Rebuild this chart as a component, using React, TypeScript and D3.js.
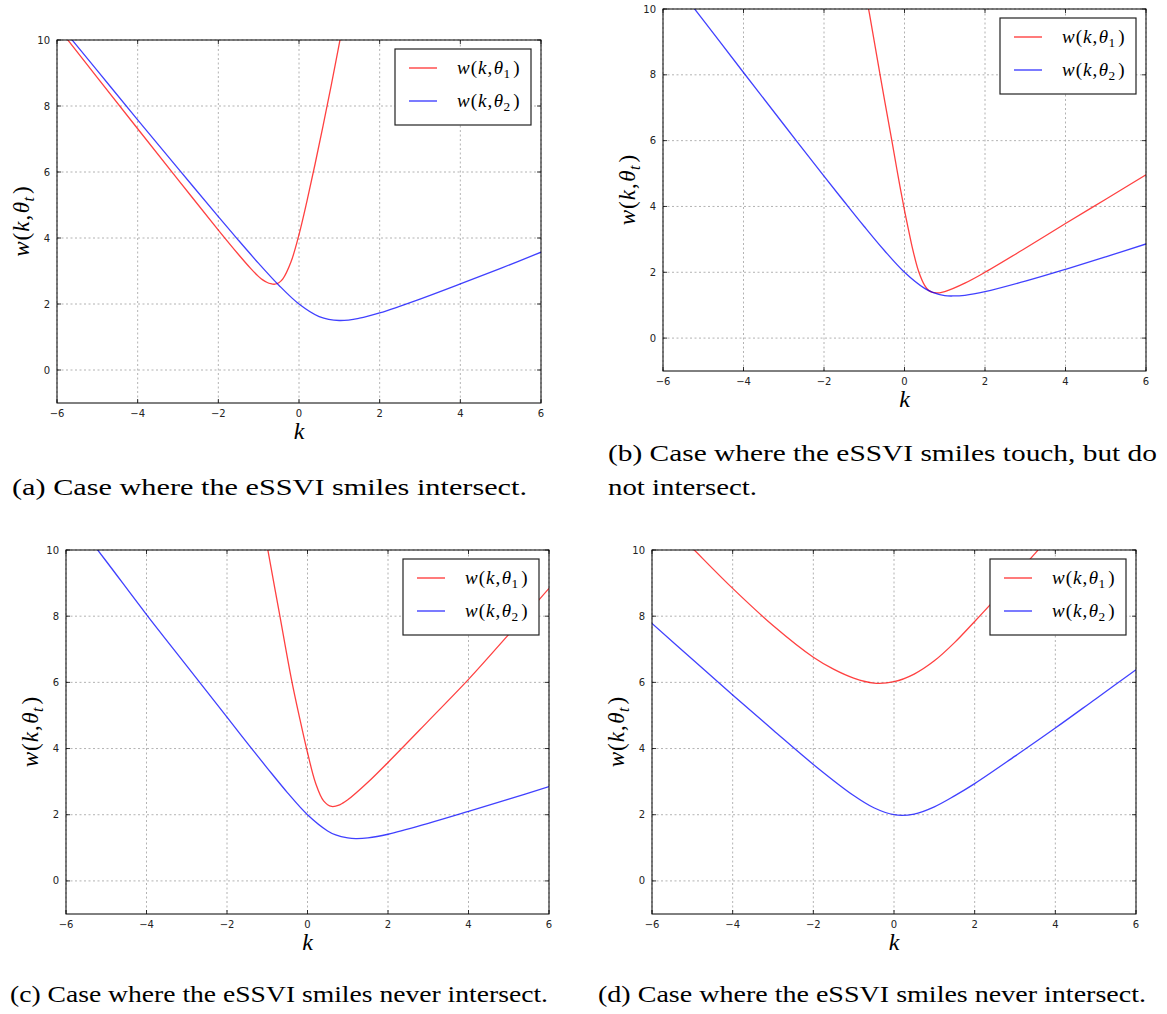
import React from 'react';
import * as d3 from 'd3';

// ---------- shared axis data ----------
const kTicks = [-6, -4, -2, 0, 2, 4, 6];
const wTicks = [0, 2, 4, 6, 8, 10];
const kDomain = [-6, 6];
const wDomain = [-1, 10];
const seriesSubs = ['1', '2'];

// ---------- panel (a) ----------
const aRedK = [-6, -5, -4, -3, -2, -1.5, -1.2, -1, -0.9, -0.8, -0.7, -0.6, -0.5, -0.4, -0.2, 0, 0.2, 0.4, 0.6, 0.8, 1.0, 1.2];
const aRedW = [10.42, 8.86, 7.31, 5.77, 4.24, 3.5, 3.08, 2.83, 2.73, 2.66, 2.615, 2.6, 2.645, 2.76, 3.27, 4.1, 5.13, 6.25, 7.42, 8.63, 9.9, 11.1];
const aBlueK = [-6, -5, -4, -3, -2, -1.5, -1, -0.5, 0, 0.5, 1, 1.5, 2, 3, 4, 5, 6];
const aBlueW = [10.56, 9.07, 7.58, 6.11, 4.65, 3.93, 3.23, 2.57, 2.0, 1.62, 1.5, 1.57, 1.73, 2.15, 2.61, 3.08, 3.57];

// ---------- panel (b) ----------
const bRedK = [-1.0, -0.87, -0.6, -0.3, -0.15, 0, 0.1, 0.2, 0.35, 0.5, 0.6, 0.7, 0.8, 0.9, 1.0, 1.5, 2, 3, 4, 5, 6];
const bRedW = [10.7, 9.85, 7.95, 5.9, 4.86, 3.88, 3.29, 2.72, 2.03, 1.6, 1.45, 1.39, 1.375, 1.38, 1.41, 1.67, 2.0, 2.73, 3.48, 4.22, 4.96];
const bBlueK = [-6, -5, -4, -3, -2, -1.5, -1, -0.5, 0, 0.5, 0.7, 1, 1.2, 1.5, 2, 3, 4, 5, 6];
const bBlueW = [11.25, 9.66, 8.07, 6.49, 4.92, 4.15, 3.39, 2.66, 2.0, 1.51, 1.39, 1.29, 1.28, 1.3, 1.41, 1.73, 2.09, 2.47, 2.86];

// ---------- panel (c) ----------
const cRedK = [-1.1, -1, -0.7, -0.4, -0.2, 0, 0.2, 0.4, 0.6, 0.8, 1.0, 1.5, 2, 3, 4, 5, 6];
const cRedW = [10.8, 10.1, 8.1, 6.1, 4.95, 3.88, 2.96, 2.42, 2.25, 2.3, 2.45, 2.98, 3.58, 4.83, 6.09, 7.45, 8.84];
const cBlueK = [-6, -5, -4, -3, -2, -1.5, -1, -0.5, 0, 0.5, 0.7, 1, 1.2, 1.5, 2, 3, 4, 5, 6];
const cBlueW = [11.25, 9.66, 8.05, 6.5, 4.95, 4.17, 3.41, 2.67, 2.0, 1.51, 1.39, 1.3, 1.28, 1.3, 1.41, 1.74, 2.1, 2.47, 2.85];

// ---------- panel (d) ----------
const dRedK = [-6, -5, -4, -3, -2, -1.5, -1, -0.5, 0, 0.5, 1, 1.5, 2, 2.5, 3, 3.5, 4];
const dRedW = [11.3, 10.06, 8.84, 7.72, 6.76, 6.4, 6.13, 5.98, 6.02, 6.25, 6.65, 7.2, 7.84, 8.5, 9.2, 9.9, 10.6];
const dBlueK = [-6, -5, -4, -3, -2, -1, -0.5, 0, 0.5, 1, 1.5, 2, 3, 4, 5, 6];
const dBlueW = [7.78, 6.7, 5.62, 4.56, 3.52, 2.58, 2.21, 2.0, 2.02, 2.24, 2.57, 2.94, 3.77, 4.62, 5.5, 6.38];

// ---------- captions ----------
const captionA = ['(a) Case where the eSSVI smiles intersect.'];
const captionB = ['(b) Case where the eSSVI smiles touch, but do', 'not intersect.'];
const captionC = ['(c) Case where the eSSVI smiles never intersect.'];
const captionD = ['(d) Case where the eSSVI smiles never intersect.'];

const RED = '#ff0000';
const BLUE = '#0000ff';
const SERIF = "'Liberation Serif', 'Times New Roman', Times, serif";
const SANS = "'DejaVu Sans', sans-serif";

const zip = (ks: number[], ws: number[]) => ks.map((k, i) => [k, ws[i]] as [number, number]);

type PanelProps = {
  id: string;
  left: number;
  top: number;
  width: number;
  height: number;
  red: [number, number][];
  blue: [number, number][];
};

function MathLabel({ sub, size }: { sub: string; size: number }) {
  return (
    <>
      <tspan fontStyle="italic">w</tspan>
      <tspan dx={1}>(</tspan>
      <tspan fontStyle="italic" dx={1}>k</tspan>
      <tspan dx={1}>,</tspan>
      <tspan fontStyle="italic" dx={1.5}>θ</tspan>
      <tspan fontSize={size * 0.7} dy={size * 0.22} dx={0.5} fontStyle={sub === 't' ? 'italic' : 'normal'}>
        {sub}
      </tspan>
      <tspan dy={-size * 0.22} dx={3}>)</tspan>
    </>
  );
}

function Panel({ id, left, top, width, height, red, blue }: PanelProps) {
  const x = d3.scaleLinear().domain(kDomain).range([left, left + width]);
  const y = d3.scaleLinear().domain(wDomain).range([top + height, top]);
  const line = d3
    .line<[number, number]>()
    .x((d) => x(d[0]))
    .y((d) => y(d[1]))
    .curve(d3.curveCatmullRom.alpha(0.5));
  const right = left + width;
  const bottom = top + height;
  const fmt = (v: number) => (v < 0 ? '\u2212' + Math.abs(v) : String(v));
  const lx = right - 10 - 136;
  const ly = top + 9;
  const series = [
    { color: RED, data: red },
    { color: BLUE, data: blue },
  ];
  return (
    <g>
      <defs>
        <clipPath id={`clip-${id}`}>
          <rect x={left} y={top} width={width} height={height} />
        </clipPath>
      </defs>
      <rect x={left} y={top} width={width} height={height} fill="#fff" />
      {kTicks.map((t) => (
        <line key={`gx${t}`} x1={x(t)} x2={x(t)} y1={top} y2={bottom} stroke="#a0a0a0" strokeWidth={0.8} strokeDasharray="2,2.5" />
      ))}
      {wTicks.map((t) => (
        <line key={`gy${t}`} x1={left} x2={right} y1={y(t)} y2={y(t)} stroke="#a0a0a0" strokeWidth={0.8} strokeDasharray="2,2.5" />
      ))}
      <g clipPath={`url(#clip-${id})`}>
        {series.map((s, i) => (
          <path key={i} d={line(s.data) || ''} fill="none" stroke={s.color} strokeOpacity={0.75} strokeWidth={1.3} />
        ))}
      </g>
      {kTicks.map((t) => (
        <g key={`tx${t}`}>
          <line x1={x(t)} x2={x(t)} y1={bottom} y2={bottom - 4} stroke="#000" strokeWidth={0.8} />
          <line x1={x(t)} x2={x(t)} y1={top} y2={top + 4} stroke="#000" strokeWidth={0.8} />
          <text x={x(t)} y={bottom + 14} textAnchor="middle" style={{ fontFamily: SANS }} fontSize={10} fill="#222">
            {fmt(t)}
          </text>
        </g>
      ))}
      {wTicks.map((t) => (
        <g key={`ty${t}`}>
          <line x1={left} x2={left + 4} y1={y(t)} y2={y(t)} stroke="#000" strokeWidth={0.8} />
          <line x1={right} x2={right - 4} y1={y(t)} y2={y(t)} stroke="#000" strokeWidth={0.8} />
          <text x={left - 7} y={y(t) + 3.5} textAnchor="end" style={{ fontFamily: SANS }} fontSize={10} fill="#222">
            {fmt(t)}
          </text>
        </g>
      ))}
      <rect x={left} y={top} width={width} height={height} fill="none" stroke="#000" strokeWidth={1} />
      <text x={(left + right) / 2} y={bottom + 36} textAnchor="middle" style={{ fontFamily: SERIF }} fontStyle="italic" fontSize={24} fill="#000">
        k
      </text>
      <text
        transform={`translate(${left - 28},${(top + bottom) / 2}) rotate(-90)`}
        textAnchor="middle"
        style={{ fontFamily: SERIF }}
        fontSize={23}
        fill="#000"
      >
        <MathLabel sub="t" size={23} />
      </text>
      <rect x={lx} y={ly} width={136} height={76} fill="#fff" stroke="#222" strokeWidth={1.2} />
      {series.map((s, i) => (
        <g key={`lg${i}`}>
          <line x1={lx + 14} x2={lx + 42} y1={ly + 19 + i * 33} y2={ly + 19 + i * 33} stroke={s.color} strokeOpacity={0.8} strokeWidth={1.3} />
          <text x={lx + 62} y={ly + 25 + i * 33} style={{ fontFamily: SERIF }} fontSize={19} fill="#000">
            <MathLabel sub={seriesSubs[i]} size={19} />
          </text>
        </g>
      ))}
    </g>
  );
}

function Caption({ lines, x, y, widths }: { lines: string[]; x: number; y: number; widths: number[] }) {
  return (
    <g>
      {lines.map((l, i) => (
        <text
          key={i}
          x={x}
          y={y + i * 34}
          style={{ fontFamily: SERIF }}
          fontSize={23}
          fill="#000"
          textLength={widths[i]}
          lengthAdjust="spacingAndGlyphs"
        >
          {l}
        </text>
      ))}
    </g>
  );
}

export default function App() {
  return (
    <svg
      width={1167}
      height={1014}
      viewBox="0 0 1167 1014"
      style={{ position: 'absolute', left: 0, top: 0, background: '#fff' }}
    >
      <rect x={0} y={0} width={1167} height={1014} fill="#fff" />
      <Panel id="a" left={57} top={40} width={484} height={363} red={zip(aRedK, aRedW)} blue={zip(aBlueK, aBlueW)} />
      <Panel id="b" left={663} top={9} width={483} height={362} red={zip(bRedK, bRedW)} blue={zip(bBlueK, bBlueW)} />
      <Panel id="c" left={66} top={550} width={483} height={364} red={zip(cRedK, cRedW)} blue={zip(cBlueK, cBlueW)} />
      <Panel id="d" left={652} top={550} width={484} height={364} red={zip(dRedK, dRedW)} blue={zip(dBlueK, dBlueW)} />
      <Caption lines={captionA} x={12} y={495} widths={[515]} />
      <Caption lines={captionB} x={608} y={461} widths={[549, 149]} />
      <Caption lines={captionC} x={10} y={1002} widths={[538]} />
      <Caption lines={captionD} x={598} y={1002} widths={[548]} />
    </svg>
  );
}
